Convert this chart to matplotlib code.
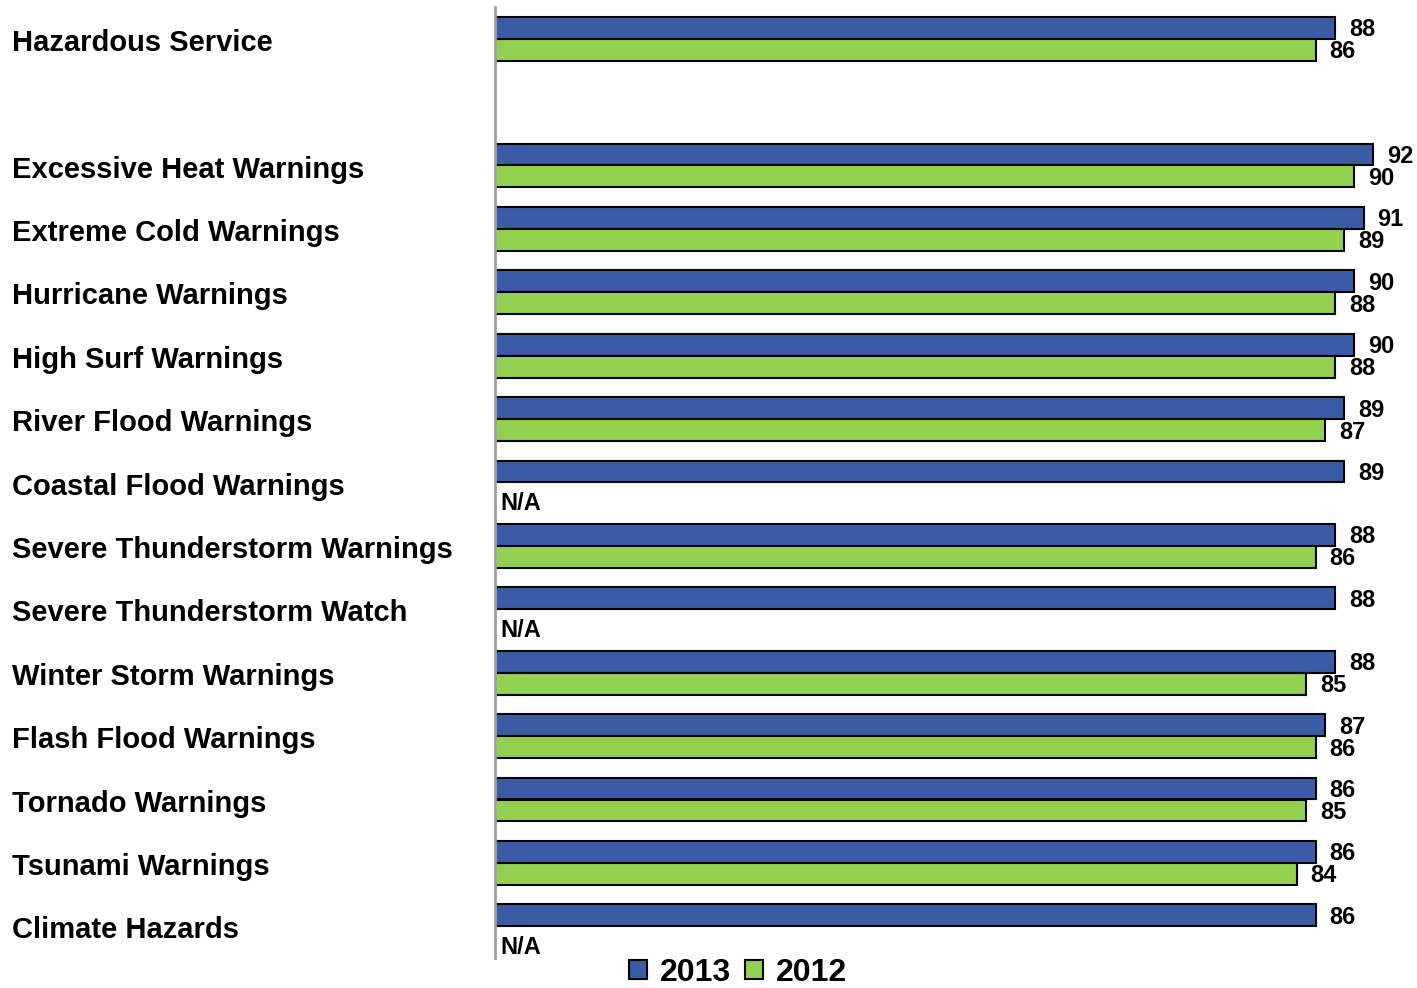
import numpy as np
import matplotlib.pyplot as plt
from matplotlib import transforms
from matplotlib.patches import Patch

plt.rcParams['font.family'] = ['Liberation Sans', 'DejaVu Sans']

# data
categories = ['Hazardous Service', 'Excessive Heat Warnings', 'Extreme Cold Warnings',
              'Hurricane Warnings', 'High Surf Warnings', 'River Flood Warnings',
              'Coastal Flood Warnings', 'Severe Thunderstorm Warnings',
              'Severe Thunderstorm Watch', 'Winter Storm Warnings', 'Flash Flood Warnings',
              'Tornado Warnings', 'Tsunami Warnings', 'Climate Hazards']
vals_2013 = [88, 92, 91, 90, 90, 89, 89, 88, 88, 88, 87, 86, 86, 86]
vals_2012 = [86, 90, 89, 88, 88, 87, None, 86, None, 85, 86, 85, 84, None]

blue = '#3A5BA6'
green = '#92D050'

# one empty slot between the first row and the rest
ypos = np.array([0] + list(range(2, 2 + len(categories) - 1)))
h = 0.347

fig = plt.figure(figsize=(14.17, 9.88), dpi=100)
ax = fig.add_axes([495 / 1417, 1 - 958 / 988, 1 - 495 / 1417, 951 / 988])

ax.barh(ypos - h / 2, vals_2013, height=h, color=blue, edgecolor='black', linewidth=1.5)
g_y = [y + h / 2 for y, v in zip(ypos, vals_2012) if v is not None]
g_v = [v for v in vals_2012 if v is not None]
ax.barh(g_y, g_v, height=h, color=green, edgecolor='black', linewidth=1.5)

lab_kw = dict(textcoords='offset points', ha='left', va='center',
              fontsize=17, fontweight='bold')
for y, v in zip(ypos, vals_2013):
    ax.annotate(str(v), (v, y - h / 2), xytext=(10, -1.5), **lab_kw)
for y, v in zip(ypos, vals_2012):
    if v is None:
        ax.annotate('N/A', (0, y + h / 2), xytext=(4, -7), **lab_kw)
    else:
        ax.annotate(str(v), (v, y + h / 2), xytext=(10, -1.5), **lab_kw)

trans = transforms.blended_transform_factory(fig.transFigure, ax.transData)
for y, name in zip(ypos, categories):
    ax.annotate(name, (12 / 1417, y), xycoords=trans, xytext=(0, -3),
                textcoords='offset points', ha='left', va='center',
                fontsize=21, fontweight='bold', annotation_clip=False)

ax.set_xlim(0, 96.6)
ax.set_ylim(14.5, -0.5)
ax.set_xticks([])
ax.set_yticks([])
for s in ['top', 'right', 'bottom']:
    ax.spines[s].set_visible(False)
ax.spines['left'].set_color('#A0A0A0')
ax.spines['left'].set_linewidth(2)

handles = [Patch(facecolor=blue, edgecolor='black', linewidth=1.5, label='2013'),
           Patch(facecolor=green, edgecolor='black', linewidth=1.5, label='2012')]
fig.legend(handles=handles, loc='center', bbox_to_anchor=(738 / 1417, 1 - 973 / 988),
           ncol=2, frameon=False, prop={'size': 23, 'weight': 'bold'},
           handlelength=0.55, handleheight=0.55, handletextpad=0.4, columnspacing=0.45,
           borderaxespad=0, borderpad=0)

fig.savefig('out.png', dpi=100)
